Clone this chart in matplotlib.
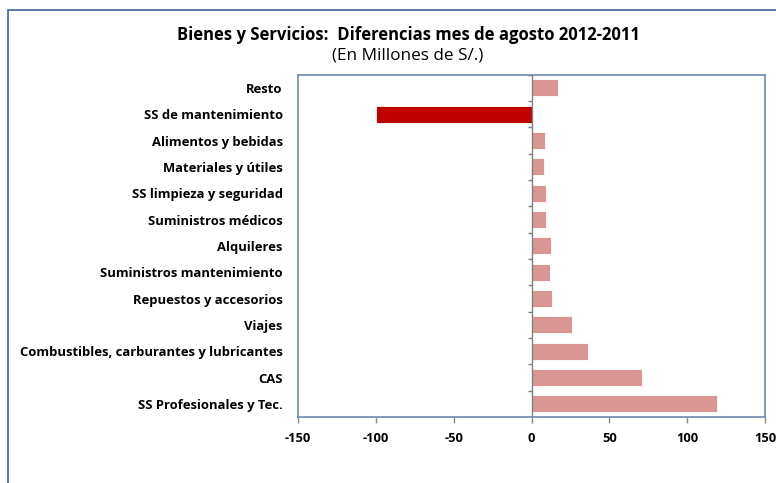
import numpy as np
import matplotlib.pyplot as plt
from matplotlib.patches import Rectangle

plt.rcParams["font.family"] = ["Open Sans", "DejaVu Sans"]

categories = [
    "Resto",
    "SS de mantenimiento",
    "Alimentos y bebidas",
    "Materiales y útiles",
    "SS limpieza y seguridad",
    "Suministros médicos",
    "Alquileres",
    "Suministros mantenimiento",
    "Repuestos y accesorios",
    "Viajes",
    "Combustibles, carburantes y lubricantes",
    "CAS",
    "SS Profesionales y Tec.",
]
values = [17, -100, 8.5, 8, 9, 9, 12.5, 12, 13, 26, 36.5, 71, 119]
x_ticks = [-150, -100, -50, 0, 50, 100, 150]

fig = plt.figure(figsize=(7.76, 4.83), dpi=100)
ax = fig.add_axes([0.384, 0.1366, 0.602, 0.7086])

y = np.arange(len(categories))
colors = ["#c00000" if v < 0 else "#d99694" for v in values]
ax.barh(y, values, height=0.65, color=colors, edgecolor="white", linewidth=0.6, zorder=2)

ax.set_xlim(-150, 150)
ax.set_ylim(len(categories) - 0.5, -0.5)

ax.set_yticks(y)
ax.set_yticklabels(categories, fontsize=9.4, fontweight="bold")
ax.tick_params(axis="y", length=0, pad=11)

ax.set_xticks(x_ticks)
ax.set_xticklabels([str(t) for t in x_ticks], fontsize=9.3, fontweight="bold")
ax.tick_params(axis="x", length=4, width=1, color="#8c8c8c", pad=7)

for s in ax.spines.values():
    s.set_color("#6f88b0")
    s.set_linewidth(1.2)

# zero line with category separators
ax.axvline(0, color="#808080", linewidth=1, zorder=3)
bounds = np.arange(len(categories) + 1) - 0.5
ax.hlines(bounds, -2.6, 0, color="#808080", linewidth=1, zorder=3)

fig.text(0.526, 0.928, "Bienes y Servicios:  Diferencias mes de agosto 2012-2011",
         ha="center", va="center", fontsize=12, fontweight="bold")
fig.text(0.526, 0.886, "(En Millones de S/.)", ha="center", va="center", fontsize=12.3)

fig.patches.append(Rectangle((8 / 776, -0.1), 1.2, 1.1 - 10 / 483 + 0.001,
                             transform=fig.transFigure, fill=False,
                             edgecolor="#4f6fa0", linewidth=1.3))

fig.savefig("out.png", dpi=100)
